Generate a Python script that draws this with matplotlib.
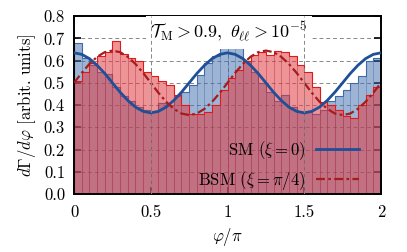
import matplotlib
matplotlib.use("Agg")
import matplotlib.pyplot as plt
import numpy as np

plt.rcParams['font.family'] = 'serif'
plt.rcParams['font.serif'] = ['cmr10']
plt.rcParams['mathtext.fontset'] = 'cm'
plt.rcParams['axes.formatter.use_mathtext'] = True
plt.rcParams['font.size'] = 12

# histogram bins in phi/pi (40 bins of 0.05)
edges = [0.05 * i for i in range(41)]

sm_hist = [0.68, 0.61, 0.58, 0.55, 0.54, 0.48, 0.44, 0.42, 0.39, 0.38,
           0.37, 0.41, 0.40, 0.44, 0.46, 0.49, 0.535, 0.59, 0.62, 0.665,
           0.66, 0.655, 0.60, 0.55, 0.50, 0.46, 0.42, 0.445, 0.39, 0.37,
           0.37, 0.36, 0.38, 0.42, 0.44, 0.47, 0.50, 0.53, 0.60, 0.61]

bsm_hist = [0.51, 0.55, 0.59, 0.62, 0.64, 0.69, 0.63, 0.61, 0.60, 0.55,
            0.53, 0.51, 0.49, 0.445, 0.40, 0.36, 0.36, 0.37, 0.40, 0.47,
            0.52, 0.56, 0.60, 0.625, 0.64, 0.625, 0.645, 0.64, 0.62, 0.58,
            0.55, 0.48, 0.415, 0.40, 0.38, 0.35, 0.34, 0.40, 0.445, 0.48]

# theory curves read at every 0.05
curve_x = [0.05 * i for i in range(41)]
sm_curve = [0.635, 0.628, 0.609, 0.579, 0.542, 0.500, 0.458, 0.421, 0.391, 0.372,
            0.365, 0.372, 0.391, 0.421, 0.458, 0.500, 0.542, 0.579, 0.609, 0.628,
            0.635, 0.628, 0.609, 0.579, 0.542, 0.500, 0.458, 0.421, 0.391, 0.372,
            0.365, 0.372, 0.391, 0.421, 0.458, 0.500, 0.542, 0.579, 0.609, 0.628,
            0.635]
bsm_curve = [0.500, 0.545, 0.585, 0.617, 0.638, 0.645, 0.638, 0.617, 0.585, 0.545,
             0.500, 0.455, 0.415, 0.383, 0.362, 0.355, 0.362, 0.383, 0.415, 0.455,
             0.500, 0.545, 0.585, 0.617, 0.638, 0.645, 0.638, 0.617, 0.585, 0.545,
             0.500, 0.455, 0.415, 0.383, 0.362, 0.355, 0.362, 0.383, 0.415, 0.455,
             0.500]

fig = plt.figure(figsize=(4.07, 2.52), dpi=100)
ax = fig.add_axes([0.182, 0.230, 0.754, 0.706])
ax.set_axisbelow(True)

left = edges[:-1]
width = 0.05
ax.bar(left, sm_hist, width=width, align='edge', color='#3d6aab', alpha=0.5,
       edgecolor='#3d6aab', linewidth=0.4, zorder=1)
ax.stairs(sm_hist, edges, color='#3d6aab', linewidth=0.8, zorder=1.1)
ax.bar(left, bsm_hist, width=width, align='edge', color='#e03a40', alpha=0.55,
       edgecolor='#b83048', linewidth=0.4, zorder=1.2)
ax.stairs(bsm_hist, edges, color='#e01818', linewidth=0.8, zorder=1.3)

ax.plot(curve_x, sm_curve, color='#1f4f96', linewidth=2, zorder=3,
        label=r'SM $(\xi = 0)$')
ax.plot(curve_x, bsm_curve, color='#a51c1c', linewidth=1.6, zorder=3,
        dashes=(4, 1.5, 1.2, 1.5), label=r'BSM $(\xi = \pi/4)$')

ax.set_xlim(0, 2)
ax.set_ylim(0, 0.8)
ax.set_xticks([0, 0.5, 1, 1.5, 2])
ax.set_xticklabels(['0', '0.5', '1', '1.5', '2'])
ax.set_yticks(np.arange(0, 0.81, 0.1))
ax.set_yticklabels(['%.1f' % v for v in np.arange(0, 0.81, 0.1)])
ax.tick_params(direction='in', top=True, right=True, length=5, width=1.2,
               labelsize=12)
ax.tick_params(axis='x', pad=8)
ax.tick_params(axis='y', pad=6.5)
ax.grid(True, color='#888888', linestyle=(0, (4, 3)), linewidth=0.7)
for s in ax.spines.values():
    s.set_linewidth(1.4)

ax.text(1.01, 0.727, r'$\mathcal{T}_{\rm M} > 0.9,\ \theta_{\ell\ell} > 10^{-5}$',
        ha='center', va='center', fontsize=13, zorder=4,
        bbox=dict(facecolor='white', edgecolor='none', pad=3))
for xv in [0.5, 1.5]:
    ax.axvline(xv, color='#888888', linestyle=(0, (4, 3)), linewidth=0.7, zorder=5)

ax.set_xlabel(r'$\varphi/\pi$', fontsize=12, labelpad=4)
ax.set_ylabel(r'$d\Gamma/d\varphi$ [arbit. units]', fontsize=12, labelpad=4)

leg = ax.legend(loc='center right', frameon=False, markerfirst=False,
                fontsize=12, handlelength=2.6, handletextpad=0.6,
                labelspacing=0.4, borderaxespad=0,
                bbox_to_anchor=(0.95, 0.16))

fig.savefig('out.png', dpi=100)
